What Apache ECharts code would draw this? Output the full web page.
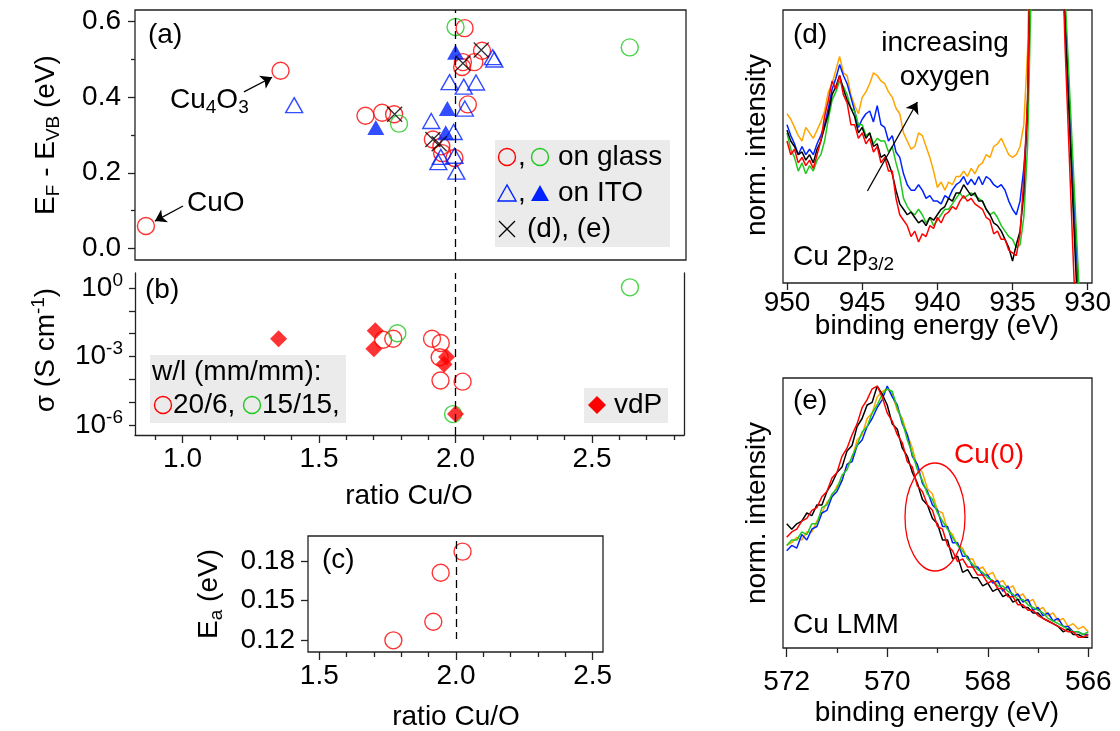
<!DOCTYPE html>
<html>
<head>
<meta charset="utf-8">
<script src="https://cdn.jsdelivr.net/npm/echarts@6/dist/echarts.min.js"></script>
<style>
  html, body { margin: 0; padding: 0; background: #fff; }
  #chart { width: 1120px; height: 731px; }
</style>
</head>
<body>
<div id="chart"></div>
<script>
// ---------- (a) E_F - E_VB versus Cu/O ratio ----------
const aGlassRed = [[0.866,0.059],[1.359,0.470],[1.670,0.351],[1.731,0.359],[1.775,0.355],
  [1.917,0.288],[1.948,0.270],[1.951,0.252],[1.996,0.239],[2.033,0.583],[2.027,0.493],
  [2.024,0.480],[2.069,0.493],[2.097,0.523],[2.045,0.381]];
const aGlassGreen = [[1.793,0.330],[2.000,0.586],[2.638,0.532]];
const aItoOpen = [[1.409,0.379],[1.911,0.337],[1.937,0.228],[1.946,0.242],[1.993,0.308],
  [1.996,0.245],[2.003,0.203],[1.978,0.440],[2.030,0.428],[2.075,0.439],[2.034,0.370],
  [2.136,0.506],[2.142,0.500]];
const aItoFilled = [[1.708,0.320],[1.970,0.370],[1.964,0.306],[2.000,0.519]];
const aSpectraSamples = [[1.777,0.355],[1.917,0.288],[1.940,0.277],[2.027,0.490],[2.094,0.525]];

// ---------- (b) conductivity (S/cm) versus Cu/O ratio ----------
const bRed = [[1.735,5.4e-3],[1.772,6.0e-3],[1.914,6.0e-3],[1.946,3.9e-3],[1.942,9.3e-4],
  [1.945,8.9e-5],[2.026,7.9e-5]];
const bGreen = [[1.787,1.05e-2],[1.991,3.0e-6],[2.639,1.07]];
const bVdP = [[1.352,6.0e-3],[1.706,1.35e-2],[1.701,2.2e-3],[1.967,9.5e-4],[1.958,4.6e-4],[2.000,3.0e-6]];

// ---------- (c) activation energy ----------
const cRatio = [1.771, 1.917, 1.944, 2.024];
const cEa = [0.120, 0.134, 0.171, 0.187];

// ---------- tick values ----------
const ratioTicks = [1.0, 1.5, 2.0, 2.5];
const ratioMinor = [0.9,1.1,1.2,1.3,1.4,1.6,1.7,1.8,1.9,2.1,2.2,2.3,2.4,2.6,2.7,2.8];
const ratioTicksC = [1.5, 2.0, 2.5];
const ratioMinorC = [1.6,1.7,1.8,1.9,2.1,2.2,2.3,2.4];
const efTicks = [0.0, 0.2, 0.4, 0.6];
const efMinor = [0.1, 0.3, 0.5];
const sigmaLabels = [1, 1e-3, 1e-6];
const sigmaTicks = [1, 1e-1, 1e-2, 1e-3, 1e-4, 1e-5, 1e-6];
const eaTicks = [0.12, 0.15, 0.18];
const cu2pTicks = [950, 945, 940, 935, 930];
const lmmLabels = [572, 570, 568, 566];
const lmmMinor = [571, 569, 567];

// ---------- (d) Cu 2p3/2 spectra ----------
const cu2pEnergy = [950,949.75,949.5,949.25,949,948.75,948.5,948.25,948,947.75,947.5,947.25,947,946.75,
  946.5,946.25,946,945.75,945.5,945.25,945,944.75,944.5,944.25,944,943.75,943.5,943.25,943,942.75,942.5,
  942.25,942,941.75,941.5,941.25,941,940.75,940.5,940.25,940,939.75,939.5,939.25,939,938.75,938.5,938.25,
  938,937.75,937.5,937.25,937,936.75,936.5,936.25,936,935.75,935.5,935.25,935,934.75,934.5,934.25,934,
  933.75,933.5,933.25,933,932.75,932.5,932.25,932,931.75,931.5,931.25,931,930.75,930.5];
const cu2pOrange = [0.62,0.60,0.57,0.54,0.52,0.57,0.55,0.53,0.56,0.59, 0.63,0.70,0.73,0.78,0.83,0.77,0.76,0.69,0.65,0.62,
  0.68,0.70,0.73,0.77,0.76,0.74,0.73,0.70,0.68,0.64, 0.62,0.55,0.52,0.49,0.50,0.55,0.54,0.50,0.46,0.41,
  0.35,0.37,0.34,0.37,0.36,0.39,0.39,0.41,0.39,0.42, 0.40,0.43,0.44,0.47,0.46,0.50,0.51,0.53,0.50,0.47,
  0.46,0.47,0.50, 0.58,0.85,1.5,2.0,2.5,3.0,3.0,3.0,2.5,2.0,1.3,0.94,0.65,0.35,0.06,-0.2];
const cu2pBlue = [0.58,0.54,0.51,0.47,0.50,0.47,0.49,0.47,0.51,0.54, 0.58,0.64,0.71,0.75,0.80,0.76,0.73,0.68,0.63,0.57,
  0.60,0.62,0.63,0.59,0.65,0.58,0.57,0.52,0.54,0.48, 0.46,0.40,0.36,0.34,0.34,0.36,0.34,0.31,0.32,0.30,
  0.30,0.29,0.32,0.31,0.34,0.36,0.37,0.39,0.36,0.38, 0.36,0.39,0.36,0.39,0.38,0.36,0.35,0.36,0.34,0.30,
  0.27,0.25,0.30, 0.42,0.6,1.3,2.0,2.5,3.0,3.0,3.0,2.5,2.0,1.4,1.0,0.7,0.41,0.12,-0.15];
const cu2pGreen = [0.55,0.49,0.46,0.41,0.44,0.40,0.43,0.41,0.45,0.47, 0.52,0.60,0.67,0.70,0.74,0.72,0.69,0.64,0.63,0.58,
  0.58,0.54,0.55,0.51,0.53,0.52,0.52,0.48,0.50,0.44, 0.39,0.31,0.28,0.26,0.25,0.27,0.25,0.22,0.24,0.21,
  0.23,0.25,0.27,0.27,0.29,0.31,0.33,0.31,0.32,0.33, 0.32,0.31,0.30,0.27,0.25,0.26,0.24,0.21,0.19,0.17,
  0.16,0.13,0.14, 0.24,0.5,1.1,2.0,2.5,3.0,3.0,3.0,2.5,2.0,1.5,1.05,0.76,0.47,0.18,-0.1];
const cu2pBlack = [0.56,0.52,0.50,0.47,0.48,0.45,0.47,0.44,0.49,0.52, 0.57,0.62,0.69,0.72,0.76,0.71,0.67,0.64,0.61,0.55,
  0.57,0.53,0.55,0.50,0.51,0.46,0.47,0.44,0.40,0.34, 0.29,0.27,0.25,0.26,0.24,0.22,0.23,0.21,0.24,0.23,
  0.25,0.27,0.28,0.31,0.30,0.33,0.33,0.36,0.34,0.32, 0.33,0.30,0.30,0.27,0.25,0.22,0.21,0.19,0.16,0.13,
  0.08,0.14,0.19, 0.33,0.67,1.4,2.0,2.5,3.0,3.0,3.0,2.5,2.0,1.25,0.94,0.63,0.31,0.0,null];
const cu2pRed = [0.52,0.47,0.49,0.44,0.46,0.43,0.45,0.42,0.47,0.52, 0.61,0.67,0.74,0.71,0.76,0.69,0.66,0.58,0.58,0.53,
  0.55,0.51,0.53,0.48,0.50,0.44,0.46,0.41,0.41,0.31, 0.25,0.23,0.21,0.17,0.19,0.15,0.18,0.17,0.21,0.20,
  0.24,0.22,0.25,0.26,0.28,0.27,0.30,0.32,0.30,0.31, 0.29,0.28,0.27,0.24,0.23,0.18,0.19,0.16,0.16,0.12,
  0.11,0.10,0.18, 0.38,0.67,1.4,2.0,2.5,3.0,3.0,3.0,2.5,2.0,1.3,0.86,0.5,0.14,-0.2,null];

// ---------- (e) Cu LMM spectra ----------
const lmmEnergy = [572,571.9,571.8,571.7,571.6,571.5,571.4,571.3,571.2,571.1,571,570.9,570.8,570.7,570.6,
  570.5,570.4,570.3,570.2,570.1,570,569.9,569.8,569.7,569.6,569.5,569.4,569.3,569.2,569.1,569,568.9,568.8,
  568.7,568.6,568.5,568.4,568.3,568.2,568.1,568,567.9,567.8,567.7,567.6,567.5,567.4,567.3,567.2,567.1,567,
  566.9,566.8,566.7,566.6,566.5,566.4,566.3,566.2,566.1,566];
const lmmOrange = [0.38,0.39,0.41,0.40,0.43,0.43,0.47,0.50,0.54,0.56, 0.60,0.62,0.68,0.70,0.77,0.79,0.85,0.87,0.93,0.95,
  0.96,0.94,0.88,0.85,0.79,0.74,0.67,0.65,0.59,0.57, 0.51,0.50,0.44,0.42,0.38,0.37,0.33,0.33,0.29,0.30,
  0.27,0.28,0.24,0.25,0.22,0.23,0.19,0.20,0.17,0.18, 0.14,0.15,0.12,0.13,0.10,0.11,0.08,0.09,0.07,0.08, 0.06];
const lmmBlue = [0.36,0.38,0.37,0.42,0.40,0.44,0.45,0.50,0.51,0.56, 0.58,0.62,0.68,0.69,0.75,0.77,0.82,0.85,0.89,0.92,
  0.97,0.93,0.90,0.83,0.79,0.71,0.68,0.61,0.58,0.53, 0.51,0.45,0.45,0.39,0.39,0.34,0.34,0.30,0.30,0.27,
  0.27,0.24,0.25,0.21,0.23,0.19,0.20,0.17,0.18,0.14, 0.15,0.12,0.13,0.10,0.11,0.08,0.08,0.06,0.06,0.05, 0.05];
const lmmGreen = [0.38,0.40,0.40,0.43,0.42,0.46,0.46,0.52,0.53,0.57, 0.59,0.64,0.66,0.71,0.75,0.80,0.82,0.87,0.90,0.94,
  0.96,0.95,0.89,0.84,0.77,0.72,0.66,0.62,0.57,0.55, 0.50,0.47,0.44,0.41,0.38,0.36,0.33,0.31,0.29,0.28,
  0.26,0.25,0.23,0.23,0.21,0.20,0.18,0.18,0.16,0.15, 0.14,0.13,0.11,0.10,0.09,0.08,0.07,0.06,0.06,0.05, 0.06];
const lmmBlack = [0.46,0.44,0.46,0.47,0.50,0.49,0.53,0.53,0.58,0.61, 0.65,0.67,0.73,0.75,0.82,0.85,0.90,0.91,0.97,0.94,
  0.90,0.83,0.81,0.74,0.71,0.65,0.61,0.55,0.53,0.48, 0.46,0.40,0.40,0.33,0.34,0.28,0.29,0.26,0.26,0.23,
  0.24,0.21,0.22,0.19,0.20,0.17,0.18,0.15,0.15,0.13, 0.13,0.11,0.10,0.09,0.08,0.06,0.07,0.05,0.05,0.04, 0.04];
const lmmRed = [0.41,0.43,0.44,0.47,0.48,0.51,0.52,0.56,0.58,0.63, 0.65,0.71,0.74,0.79,0.83,0.89,0.92,0.96,0.97,0.93,
  0.87,0.84,0.79,0.76,0.69,0.67,0.60,0.58,0.53,0.51, 0.45,0.44,0.38,0.36,0.32,0.33,0.30,0.30,0.27,0.27,
  0.24,0.25,0.22,0.22,0.19,0.19,0.16,0.16,0.14,0.14, 0.12,0.11,0.10,0.09,0.08,0.07,0.06,0.06,0.04,0.04, 0.05];

// ---------- styling ----------
const FONT = '"Liberation Sans", Arial, Helvetica, sans-serif';
const FS = 28;
const AX = '#222';
const RED = '#ff0000', GREEN = '#1ec81e', BLUE = '#0022ff', ORANGE = '#ffa500', BLACK = '#000000';
const CROSS = 'path://M0,0L10,10M10,0L0,10';

const pairs = (xs, ys) => xs.map((x, i) => [x, ys[i]]);

const chart = echarts.init(document.getElementById('chart'), null, { renderer: 'canvas' });

const lbl = (extra) => Object.assign({ fontSize: FS, color: '#000', fontFamily: FONT }, extra);
const tick = (vals, len) => ({ show: true, customValues: vals, length: len, lineStyle: { color: AX, width: 1.3 } });
const line = { show: true, lineStyle: { color: AX, width: 1.3 } };
const noSplit = { show: false };

function openSym(symbol, color, size) {
  return { type: 'scatter', symbol, symbolSize: size,
    itemStyle: { color: 'rgba(0,0,0,0)', borderColor: color, borderWidth: 1.4 } };
}

// rich text pieces shared by text labels
const richG = {
  n: { fontSize: FS, lineHeight: 34, fontFamily: FONT, fill: '#000' },
  sb: { fontSize: 19, lineHeight: 12, verticalAlign: 'bottom', fontFamily: FONT, fill: '#000' },
  sp: { fontSize: 19, lineHeight: 12, verticalAlign: 'top', fontFamily: FONT, fill: '#000' }
};
function gtext(x, y, text, opt) {
  opt = opt || {};
  return { type: 'text', x, y, rotation: opt.rot || 0, z: 50,
    style: { text, rich: richG, fontSize: FS, fontFamily: FONT, fill: opt.fill || '#000',
      align: opt.align || 'left', verticalAlign: 'middle' } };
}

const spectrumLine = (name, color, xi, yi, energy, values, extra) => Object.assign({
  name, type: 'line', xAxisIndex: xi, yAxisIndex: yi, data: pairs(energy, values),
  showSymbol: false, symbol: 'none', clip: true, connectNulls: false,
  lineStyle: { color, width: 1.5 }, z: 3
}, extra || {});

const option = {
  animation: false,
  backgroundColor: '#fff',
  textStyle: { fontFamily: FONT },
  grid: [
    { left: 135, top: 10, width: 551, height: 250, show: true, borderColor: AX, borderWidth: 1.3 },
    { left: 135, top: 273, width: 549, height: 162 },
    { left: 308, top: 536, width: 295, height: 116, show: true, borderColor: AX, borderWidth: 1.3 },
    { left: 783, top: 10, width: 309, height: 273, show: true, borderColor: AX, borderWidth: 1.3 },
    { left: 783, top: 378, width: 309, height: 270, show: true, borderColor: AX, borderWidth: 1.3 }
  ],
  xAxis: [
    { gridIndex: 0, type: 'value', min: 0.826, max: 2.844, show: false },
    { gridIndex: 1, type: 'value', min: 0.826, max: 2.837, position: 'bottom', axisLine: line,
      axisTick: tick(ratioTicks, 8), splitLine: noSplit,
      axisLabel: lbl({ customValues: ratioTicks, formatter: v => v.toFixed(1), margin: 10 }) },
    { gridIndex: 1, type: 'value', min: 0.826, max: 2.837, position: 'bottom', axisLine: { show: false },
      axisTick: tick(ratioMinor, 5), axisLabel: { show: false }, splitLine: noSplit },
    { gridIndex: 2, type: 'value', min: 1.4587, max: 2.5377, position: 'bottom', axisLine: { show: false },
      axisTick: tick(ratioTicksC, 8), splitLine: noSplit,
      axisLabel: lbl({ customValues: ratioTicksC, formatter: v => v.toFixed(1), margin: 10 }) },
    { gridIndex: 2, type: 'value', min: 1.4587, max: 2.5377, position: 'bottom', axisLine: { show: false },
      axisTick: tick(ratioMinorC, 5), axisLabel: { show: false }, splitLine: noSplit },
    { gridIndex: 3, type: 'value', min: 929.714, max: 950.266, inverse: true, position: 'bottom',
      axisLine: { show: false }, axisTick: tick(cu2pTicks, 7), splitLine: noSplit,
      axisLabel: lbl({ customValues: cu2pTicks, formatter: v => String(v), margin: 6 }) },
    { gridIndex: 4, type: 'value', min: 565.926, max: 572.074, inverse: true, position: 'bottom',
      axisLine: { show: false }, axisTick: tick(lmmLabels, 9), splitLine: noSplit,
      axisLabel: lbl({ customValues: lmmLabels, formatter: v => String(v), margin: 20 }) },
    { gridIndex: 4, type: 'value', min: 565.926, max: 572.074, inverse: true, position: 'bottom',
      axisLine: { show: false }, axisTick: tick(lmmMinor, 5), axisLabel: { show: false }, splitLine: noSplit }
  ],
  yAxis: [
    { gridIndex: 0, type: 'value', min: -0.031, max: 0.631, position: 'left', axisLine: { show: false },
      axisTick: tick(efTicks, 7), splitLine: noSplit,
      axisLabel: lbl({ customValues: efTicks, formatter: v => v.toFixed(1), margin: 14 }) },
    { gridIndex: 0, type: 'value', min: -0.031, max: 0.631, position: 'left', axisLine: { show: false },
      axisTick: tick(efMinor, 4), axisLabel: { show: false }, splitLine: noSplit },
    { gridIndex: 1, type: 'log', min: Math.pow(10, -6.438), max: Math.pow(10, 0.657), position: 'left',
      axisLine: line, axisTick: tick(sigmaTicks, 6), splitLine: noSplit, minorTick: { show: false },
      axisLabel: lbl({ customValues: sigmaLabels, margin: 12,
        formatter: v => '{n|10}{sp|' + Math.round(Math.log10(v)) + '}',
        rich: { n: { fontSize: FS, lineHeight: 34, fontFamily: FONT, color: '#000' },
                sp: { fontSize: 19, lineHeight: 12, verticalAlign: 'top', fontFamily: FONT, color: '#000' } } }) },
    { gridIndex: 1, type: 'log', min: Math.pow(10, -6.438), max: Math.pow(10, 0.657), position: 'right',
      axisLine: line, axisTick: { show: false }, axisLabel: { show: false }, splitLine: noSplit },
    { gridIndex: 2, type: 'value', min: 0.1112, max: 0.1988, position: 'left', axisLine: { show: false },
      axisTick: tick(eaTicks, 7), splitLine: noSplit,
      axisLabel: lbl({ customValues: eaTicks, formatter: v => v.toFixed(2), margin: 13 }) },
    { gridIndex: 3, type: 'value', min: 0, max: 1, show: false },
    { gridIndex: 4, type: 'value', min: 0, max: 1, show: false }
  ],
  series: [
    // (a)
    Object.assign(openSym('circle', RED, 17), { name: 'on glass 20/6', xAxisIndex: 0, yAxisIndex: 0, data: aGlassRed,
      markLine: { silent: true, symbol: 'none', animation: false, label: { show: false },
        lineStyle: { color: BLACK, width: 1.3, type: [8, 5] }, data: [{ xAxis: 2.0 }] } }),
    Object.assign(openSym('circle', GREEN, 17), { name: 'on glass 15/15', xAxisIndex: 0, yAxisIndex: 0, data: aGlassGreen,
      markLine: { silent: true, symbol: ['none', 'arrow'], symbolSize: 11, animation: false, label: { show: false },
        lineStyle: { color: BLACK, width: 1.3, type: 'solid' },
        data: [[{ coord: [1.002, 0.112] }, { coord: [0.899, 0.072] }],
               [{ coord: [1.225, 0.414] }, { coord: [1.328, 0.453] }]] } }),
    Object.assign(openSym('triangle', BLUE, [17, 15]), { name: 'on ITO', xAxisIndex: 0, yAxisIndex: 0, data: aItoOpen }),
    { name: 'on ITO filled', type: 'scatter', symbol: 'triangle', symbolSize: [17, 15], xAxisIndex: 0, yAxisIndex: 0,
      data: aItoFilled, itemStyle: { color: BLUE } },
    Object.assign(openSym(CROSS, BLACK, 15), { name: '(d), (e)', xAxisIndex: 0, yAxisIndex: 0, data: aSpectraSamples,
      itemStyle: { color: 'rgba(0,0,0,0)', borderColor: BLACK, borderWidth: 1.3 } }),
    // (b)
    Object.assign(openSym('circle', RED, 17), { name: 'w/l 20/6', xAxisIndex: 1, yAxisIndex: 2, data: bRed,
      markLine: { silent: true, symbol: 'none', animation: false, label: { show: false },
        lineStyle: { color: BLACK, width: 1.3, type: [8, 5] }, data: [{ xAxis: 2.0 }] } }),
    Object.assign(openSym('circle', GREEN, 17), { name: 'w/l 15/15', xAxisIndex: 1, yAxisIndex: 2, data: bGreen }),
    { name: 'vdP', type: 'scatter', symbol: 'diamond', symbolSize: 17, xAxisIndex: 1, yAxisIndex: 2,
      data: bVdP, itemStyle: { color: RED } },
    // (c)
    Object.assign(openSym('circle', RED, 17), { name: 'Ea', xAxisIndex: 3, yAxisIndex: 4, data: pairs(cRatio, cEa),
      markLine: { silent: true, symbol: 'none', animation: false, label: { show: false },
        lineStyle: { color: BLACK, width: 1.3, type: [8, 5] },
        data: [[{ coord: [2.0, 0.195] }, { coord: [2.0, 0.121] }]] } }),
    // (d)
    spectrumLine('d orange', ORANGE, 5, 5, cu2pEnergy, cu2pOrange),
    spectrumLine('d blue', BLUE, 5, 5, cu2pEnergy, cu2pBlue),
    spectrumLine('d green', GREEN, 5, 5, cu2pEnergy, cu2pGreen),
    spectrumLine('d black', BLACK, 5, 5, cu2pEnergy, cu2pBlack),
    spectrumLine('d red', RED, 5, 5, cu2pEnergy, cu2pRed, {
      markLine: { silent: true, symbol: ['none', 'arrow'], symbolSize: 11, animation: false, label: { show: false },
        lineStyle: { color: BLACK, width: 1.3, type: 'solid' },
        data: [[{ coord: [944.65, 0.337] }, { coord: [941.33, 0.663] }]] } }),
    // (e)
    spectrumLine('e orange', ORANGE, 6, 6, lmmEnergy, lmmOrange),
    spectrumLine('e blue', BLUE, 6, 6, lmmEnergy, lmmBlue),
    spectrumLine('e green', GREEN, 6, 6, lmmEnergy, lmmGreen),
    spectrumLine('e black', BLACK, 6, 6, lmmEnergy, lmmBlack),
    spectrumLine('e red', RED, 6, 6, lmmEnergy, lmmRed)
  ],
  graphic: [
    // panel letters
    gtext(148, 35, '(a)'), gtext(145, 290, '(b)'), gtext(322, 560, '(c)'),
    gtext(793, 35, '(d)'), gtext(793, 401, '(e)'),
    // annotations in (a)
    gtext(170, 100, '{n|Cu}{sb|4}{n|O}{sb|3}'),
    gtext(187, 203, 'CuO'),
    // annotations in (d), (e)
    gtext(945, 43, 'increasing', { align: 'center' }),
    gtext(945, 77, 'oxygen', { align: 'center' }),
    gtext(793, 257, '{n|Cu 2p}{sb|3/2}'),
    gtext(793, 625, 'Cu LMM'),
    gtext(989, 455, 'Cu(0)', { align: 'center', fill: RED }),
    { type: 'ellipse', shape: { cx: 935, cy: 517, rx: 30, ry: 54 }, z: 50,
      style: { fill: 'none', stroke: RED, lineWidth: 1.3 } },
    // axis titles
    gtext(46, 135, '{n|E}{sb|F}{n| - E}{sb|VB}{n| (eV)}', { align: 'center', rot: Math.PI / 2 }),
    gtext(46, 350, '{n|σ (S cm}{sp|-1}{n|)}', { align: 'center', rot: Math.PI / 2 }),
    gtext(209, 594, '{n|E}{sb|a}{n| (eV)}', { align: 'center', rot: Math.PI / 2 }),
    gtext(757, 145, 'norm. intensity', { align: 'center', rot: Math.PI / 2 }),
    gtext(757, 513, 'norm. intensity', { align: 'center', rot: Math.PI / 2 }),
    gtext(409, 496, 'ratio Cu/O', { align: 'center' }),
    gtext(456, 717, 'ratio Cu/O', { align: 'center' }),
    gtext(937, 326, 'binding energy (eV)', { align: 'center' }),
    gtext(937, 713, 'binding energy (eV)', { align: 'center' }),
    // legend box of (a)
    { type: 'rect', shape: { x: 495, y: 140, width: 175, height: 107 }, style: { fill: '#ebebeb' }, z: 40 },
    { type: 'circle', shape: { cx: 507, cy: 157, r: 8.5 }, style: { fill: 'none', stroke: RED, lineWidth: 1.4 }, z: 50 },
    gtext(518, 157, ','),
    { type: 'circle', shape: { cx: 540, cy: 157, r: 8.5 }, style: { fill: 'none', stroke: GREEN, lineWidth: 1.4 }, z: 50 },
    gtext(558, 157, 'on glass'),
    { type: 'polygon', shape: { points: [[507, 185], [498, 201], [516, 201]] }, style: { fill: 'none', stroke: BLUE, lineWidth: 1.4 }, z: 50 },
    gtext(518, 193, ','),
    { type: 'polygon', shape: { points: [[540, 185], [531, 201], [549, 201]] }, style: { fill: BLUE }, z: 50 },
    gtext(558, 193, 'on ITO'),
    { type: 'polyline', shape: { points: [[499, 221], [515, 237]] }, style: { stroke: BLACK, lineWidth: 1.3 }, z: 50 },
    { type: 'polyline', shape: { points: [[515, 221], [499, 237]] }, style: { stroke: BLACK, lineWidth: 1.3 }, z: 50 },
    gtext(527, 229, '(d), (e)'),
    // legend boxes of (b)
    { type: 'rect', shape: { x: 150, y: 355, width: 196, height: 68 }, style: { fill: '#ebebeb' }, z: 40 },
    gtext(152, 372, 'w/l (mm/mm):'),
    { type: 'circle', shape: { cx: 163, cy: 405, r: 8.5 }, style: { fill: 'none', stroke: RED, lineWidth: 1.4 }, z: 50 },
    gtext(173, 405, '20/6,'),
    { type: 'circle', shape: { cx: 252, cy: 405, r: 8.5 }, style: { fill: 'none', stroke: GREEN, lineWidth: 1.4 }, z: 50 },
    gtext(262, 405, '15/15,'),
    { type: 'rect', shape: { x: 584, y: 388, width: 84, height: 35 }, style: { fill: '#ebebeb' }, z: 40 },
    { type: 'polygon', shape: { points: [[597, 396], [606, 405], [597, 414], [588, 405]] }, style: { fill: RED }, z: 50 },
    gtext(614, 405, 'vdP')
  ]
};

chart.setOption(option);
</script>
</body>
</html>
